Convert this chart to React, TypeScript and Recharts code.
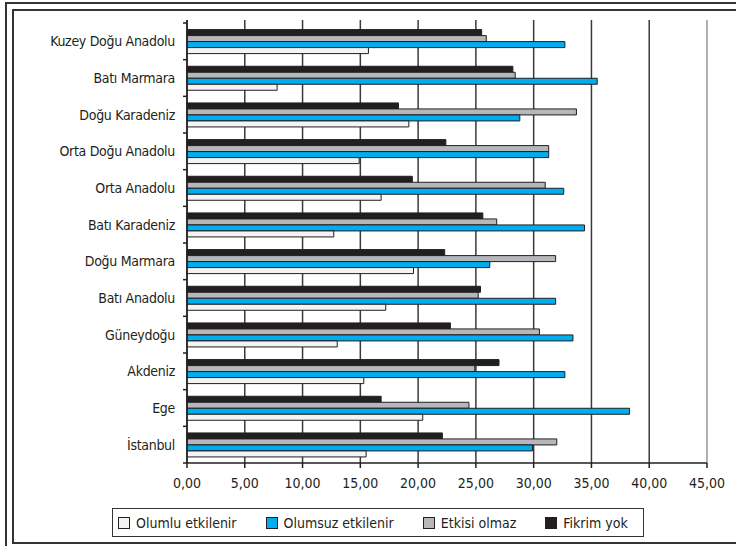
import { Bar, BarChart, CartesianGrid, ReferenceLine, XAxis, YAxis } from "recharts";

const regions = [
  "Kuzey Doğu Anadolu",
  "Batı Marmara",
  "Doğu Karadeniz",
  "Orta Doğu Anadolu",
  "Orta Anadolu",
  "Batı Karadeniz",
  "Doğu Marmara",
  "Batı Anadolu",
  "Güneydoğu",
  "Akdeniz",
  "Ege",
  "İstanbul",
];
const olumlu = [15.7, 7.8, 19.2, 14.9, 16.8, 12.7, 19.6, 17.2, 13.0, 15.3, 20.4, 15.5];
const olumsuz = [32.7, 35.5, 28.8, 31.3, 32.6, 34.4, 26.2, 31.9, 33.4, 32.7, 38.3, 29.9];
const etkisiz = [25.9, 28.4, 33.7, 31.3, 31.0, 26.8, 31.9, 25.2, 30.5, 24.9, 24.4, 32.0];
const fikrimYok = [25.5, 28.2, 18.3, 22.4, 19.5, 25.6, 22.3, 25.4, 22.8, 27.0, 16.8, 22.1];
const xTicks = [0, 5, 10, 15, 20, 25, 30, 35, 40, 45];

const data = regions.map((region, i) => ({
  region,
  olumlu: olumlu[i],
  olumsuz: olumsuz[i],
  etkisiz: etkisiz[i],
  fikrimYok: fikrimYok[i],
}));

const FONT = "'DejaVu Sans Condensed', 'DejaVu Sans', sans-serif";
const INK = "#231f20";
const W = 736;
const H = 546;
const MARGIN = { top: 20, right: 29, bottom: 53, left: 0 };
const X_AXIS_H = 30;
const PAD_TOP = 3;
const PLOT_H = H - MARGIN.top - MARGIN.bottom - X_AXIS_H - PAD_TOP;
const BAND = PLOT_H / regions.length;

const legendItems = [
  { label: "Olumlu etkilenir", color: "#f4f4f4" },
  { label: "Olumsuz etkilenir", color: "#00aeef" },
  { label: "Etkisi olmaz", color: "#b6b7ba" },
  { label: "Fikrim yok", color: INK },
];

// category labels, with small tick marks on the band edges (like Excel)
function RegionTick(props: any) {
  const { x, y, payload, index } = props;
  return (
    <g>
      {index === 0 && (
        <line x1={x + 8} x2={x + 12} y1={y - BAND / 2} y2={y - BAND / 2} stroke={INK} strokeWidth={1.5} />
      )}
      <line x1={x + 8} x2={x + 12} y1={y + BAND / 2} y2={y + BAND / 2} stroke={INK} strokeWidth={1.5} />
      <text
        x={x}
        y={y}
        dy="0.35em"
        textAnchor="end"
        fill={INK}
        fontSize={14}
        fontFamily={FONT}
        style={{ fontStretch: "condensed", letterSpacing: "-0.3px" }}
      >
        {payload.value}
      </text>
    </g>
  );
}

export default function App() {
  return (
    <div style={{ position: "absolute", left: 0, top: 0, width: W, height: H, background: "#fff" }}>
      <div
        style={{
          position: "absolute",
          left: 5,
          top: 2,
          width: W,
          height: H,
          borderLeft: "2px solid #333",
          borderTop: "2px solid #333",
        }}
      />
      <div
        style={{
          position: "absolute",
          left: 12,
          top: 9,
          width: W,
          height: 531,
          border: "2px solid #333",
        }}
      />
      <div style={{ position: "absolute", left: 0, top: 0 }}>
        <BarChart
          width={W}
          height={H}
          data={data}
          layout="vertical"
          margin={MARGIN}
          barCategoryGap="18%"
          barGap={0}
        >
          <CartesianGrid horizontal={false} stroke="#3a3a3a" strokeWidth={1.5} />
          <XAxis
            type="number"
            domain={[0, 45]}
            ticks={xTicks}
            height={X_AXIS_H}
            tickFormatter={(v: number) => v.toFixed(2).replace(".", ",")}
            tick={{ fill: INK, fontSize: 14, fontFamily: FONT, style: { fontStretch: "condensed" } }}
            axisLine={{ stroke: INK, strokeWidth: 1.5 }}
            tickLine={{ stroke: INK, strokeWidth: 1.5 }}
            tickSize={5}
            tickMargin={10}
          />
          <XAxis
            xAxisId="top"
            orientation="top"
            type="number"
            domain={[0, 45]}
            height={0}
            tick={false}
            tickLine={false}
            axisLine={{ stroke: "#b0b0b0", strokeWidth: 1.5 }}
          />
          <YAxis
            type="category"
            dataKey="region"
            width={187}
            padding={{ top: PAD_TOP, bottom: 0 }}
            tickLine={false}
            tickSize={0}
            tickMargin={12}
            axisLine={{ stroke: INK, strokeWidth: 1.5 }}
            tick={<RegionTick />}
            interval={0}
          />
          <ReferenceLine x={45} stroke="#b0b0b0" strokeWidth={2} />
          <Bar dataKey="fikrimYok" fill={INK} stroke={INK} strokeWidth={1} isAnimationActive={false} />
          <Bar dataKey="etkisiz" fill="#b6b7ba" stroke={INK} strokeWidth={1} isAnimationActive={false} />
          <Bar dataKey="olumsuz" fill="#00aeef" stroke={INK} strokeWidth={1} isAnimationActive={false} />
          <Bar dataKey="olumlu" fill="#f4f4f4" stroke={INK} strokeWidth={1} isAnimationActive={false} />
        </BarChart>
      </div>
      <div
        style={{
          position: "absolute",
          left: 112,
          top: 508,
          width: 532,
          height: 29,
          boxSizing: "border-box",
          border: "1.5px solid #333",
          display: "flex",
          alignItems: "center",
          paddingLeft: 5,
          gap: 29,
          fontFamily: FONT,
          fontStretch: "condensed",
          fontSize: 14,
          color: INK,
          whiteSpace: "nowrap",
        }}
      >
        {legendItems.map((item) => (
          <div key={item.label} style={{ display: "flex", alignItems: "center", gap: 6 }}>
            <span
              style={{
                display: "inline-block",
                width: 10,
                height: 10,
                background: item.color,
                border: `1.5px solid ${INK}`,
              }}
            />
            <span>{item.label}</span>
          </div>
        ))}
      </div>
    </div>
  );
}
